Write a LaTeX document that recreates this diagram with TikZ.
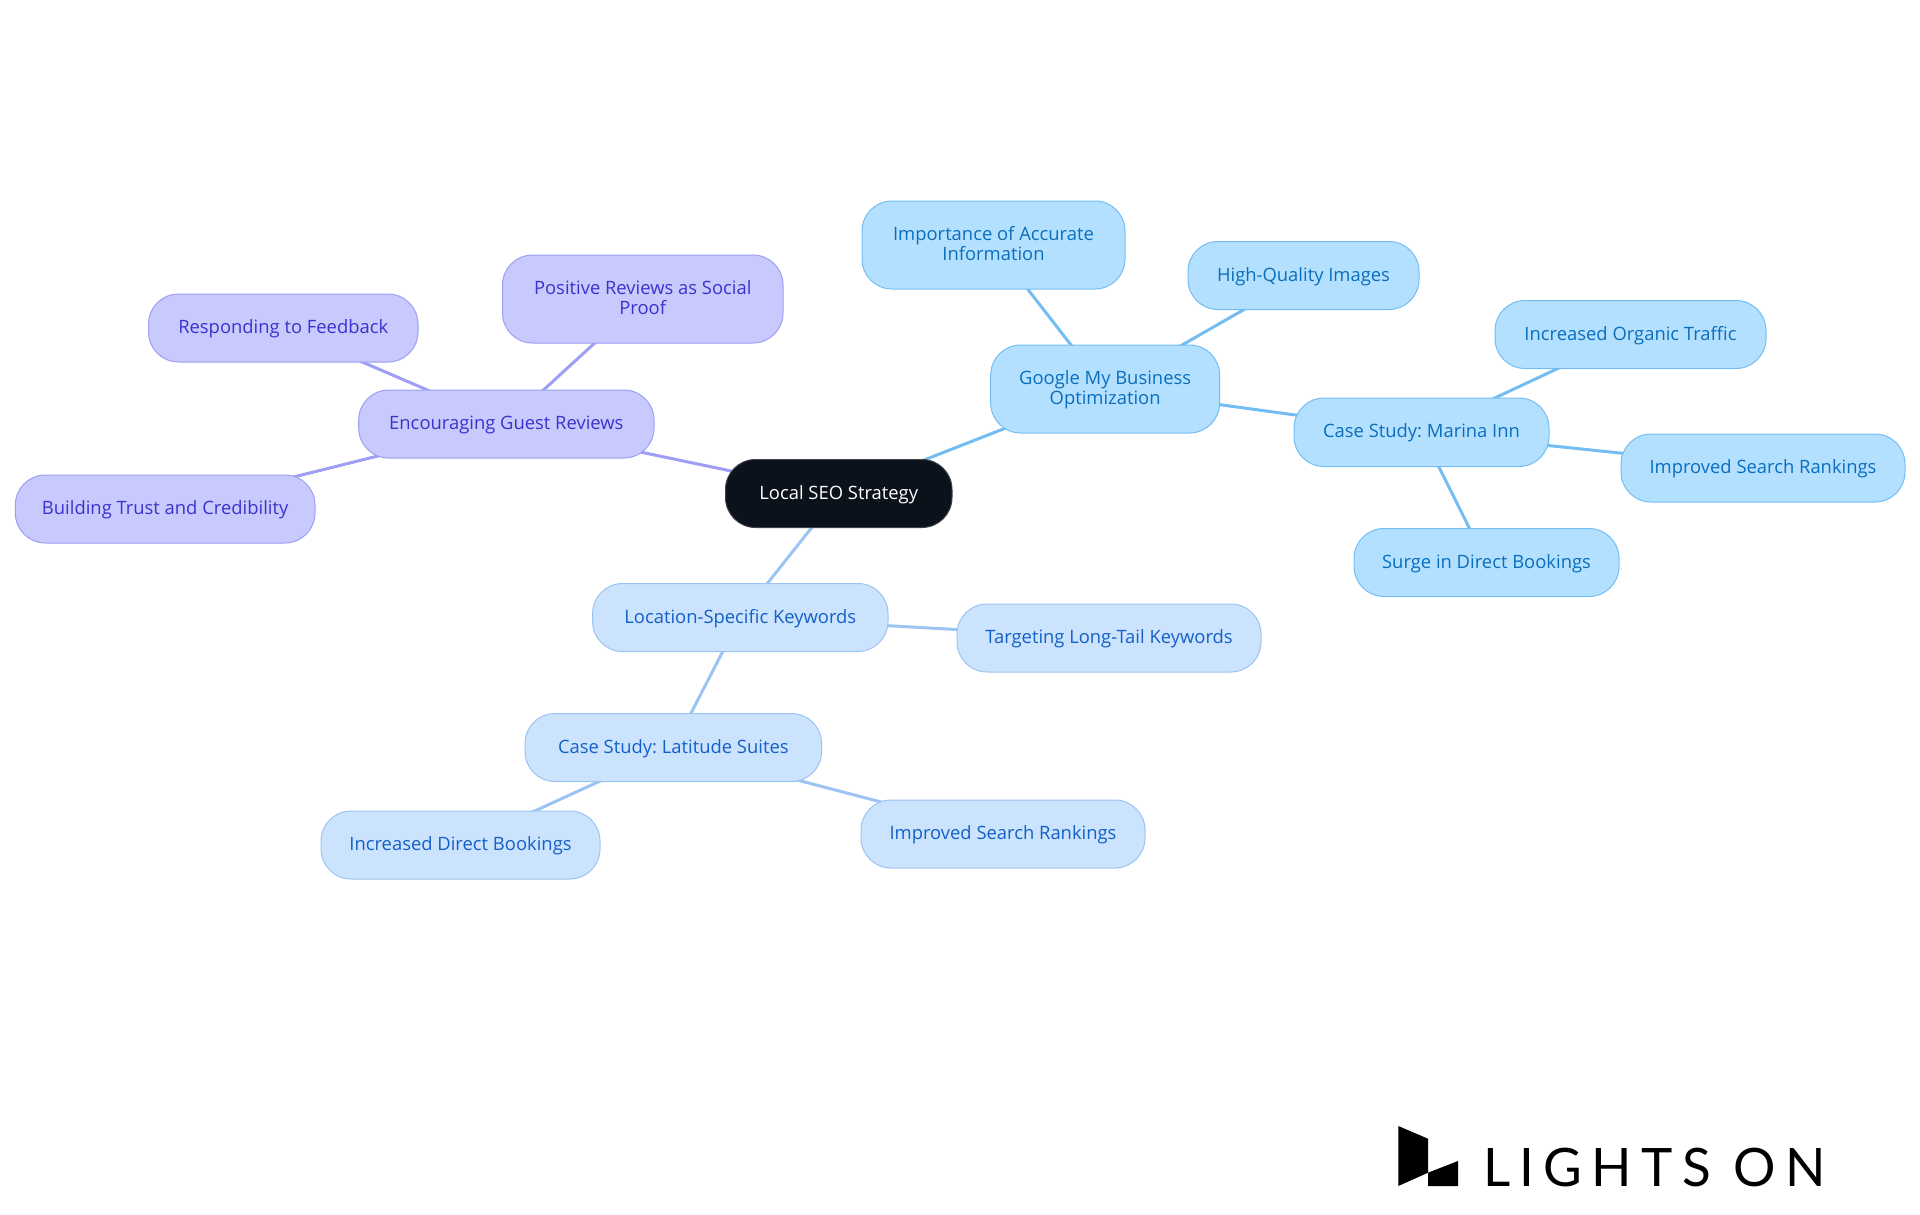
\documentclass[tikz,border=0pt]{standalone}
\usepackage{fontspec}
\setmainfont{Open Sans}
\newfontfamily\logofont[LetterSpace=17.5]{Lato}
\usetikzlibrary{backgrounds}
\definecolor{rootfill}{HTML}{0C121B}
\definecolor{purfill}{HTML}{C8C9FD}
\definecolor{purline}{HTML}{9D9EF4}
\definecolor{purtext}{HTML}{3A33CC}
\definecolor{skyfill}{HTML}{B4E0FF}
\definecolor{skyline}{HTML}{74BDF2}
\definecolor{skytext}{HTML}{0A6EBD}
\definecolor{blufill}{HTML}{CCE3FD}
\definecolor{bluline}{HTML}{9CC4F2}
\definecolor{blutext}{HTML}{1360C9}
\tikzset{
  x=1pt,y=-1pt,
  mapnode/.style={rounded corners=30pt,line width=1pt,inner sep=0pt,outer sep=0pt,
    font=\fontsize{18.4}{20}\selectfont\frenchspacing},
  rootnode/.style={mapnode,fill=rootfill,draw=rootfill!80!white,text=white},
  purnode/.style={mapnode,fill=purfill,draw=purline,text=purtext},
  skynode/.style={mapnode,fill=skyfill,draw=skyline,text=skytext},
  blunode/.style={mapnode,fill=blufill,draw=bluline,text=blutext},
  purlink/.style={draw=purline,line width=3pt},
  skylink/.style={draw=skyline,line width=3pt},
  blulink/.style={draw=bluline,line width=3pt},
}
\newcommand{\boxnode}[7]{%
  \pgfmathsetmacro{\cxx}{(#3+#5)/2}\pgfmathsetmacro{\cyy}{(#4+#6)/2}%
  \pgfmathsetmacro{\www}{#5-#3}\pgfmathsetmacro{\hhh}{#6-#4}%
  \node[#2,minimum width=\www pt,minimum height=\hhh pt] (#1) at (\cxx,\cyy)
    {\raisebox{-1.7pt}[\height][\depth]{\begin{tabular}{@{}c@{}}#7\end{tabular}}};}
\begin{document}
\begin{tikzpicture}
\useasboundingbox (0,0) rectangle (1920,1215);
\boxnode{root}{rootnode}{725.5}{459.5}{952}{527.5}{Local SEO Strategy}
\boxnode{guest}{purnode}{358.7}{390}{654}{458}{Encouraging Guest Reviews}
\boxnode{proof}{purnode}{502.5}{255}{783}{343}{Positive Reviews as Social\\Proof}
\boxnode{feedback}{purnode}{148.5}{294}{418}{362}{Responding to Feedback}
\boxnode{trust}{purnode}{15.3}{475}{315}{543}{Building Trust and Credibility}
\boxnode{google}{skynode}{990.7}{345}{1219.6}{433}{Google My Business\\Optimization}
\boxnode{accurate}{skynode}{862}{201}{1125}{289}{Importance of Accurate\\Information}
\boxnode{images}{skynode}{1188}{241.5}{1419}{309.5}{High-Quality Images}
\boxnode{marina}{skynode}{1294}{398}{1549}{466.5}{Case Study: Marina Inn}
\boxnode{organic}{skynode}{1495}{300.5}{1766}{368.5}{Increased Organic Traffic}
\boxnode{rankA}{skynode}{1621}{434}{1905}{502}{Improved Search Rankings}
\boxnode{surge}{skynode}{1354}{528.5}{1619}{596.5}{Surge in Direct Bookings}
\boxnode{location}{blunode}{592.6}{583.5}{888}{651.5}{Location-Specific Keywords}
\boxnode{longtail}{blunode}{957}{604}{1261}{672}{Targeting Long-Tail Keywords}
\boxnode{latitude}{blunode}{525}{713.5}{821.6}{781.5}{Case Study: Latitude Suites}
\boxnode{direct}{blunode}{321}{811}{600}{879}{Increased Direct Bookings}
\boxnode{rankB}{blunode}{861}{800}{1145}{868}{Improved Search Rankings}
\begin{scope}[on background layer]
\draw[purlink] (root.center) -- (guest.center);
\draw[purlink] (guest.center) -- (proof.center);
\draw[purlink] (guest.center) -- (feedback.center);
\draw[purlink] (guest.center) -- (trust.center);
\draw[skylink] (root.center) -- (google.center);
\draw[skylink] (google.center) -- (accurate.center);
\draw[skylink] (google.center) -- (images.center);
\draw[skylink] (google.center) -- (marina.center);
\draw[skylink] (marina.center) -- (organic.center);
\draw[skylink] (marina.center) -- (rankA.center);
\draw[skylink] (marina.center) -- (surge.center);
\draw[blulink] (root.center) -- (location.center);
\draw[blulink] (location.center) -- (longtail.center);
\draw[blulink] (location.center) -- (latitude.center);
\draw[blulink] (latitude.center) -- (direct.center);
\draw[blulink] (latitude.center) -- (rankB.center);
\end{scope}
\fill[black] (1398.3,1126) -- (1428,1138.7) -- (1428,1172.7) -- (1398.3,1186) -- cycle;
\fill[black] (1428,1172.7) -- (1458,1161) -- (1458,1186) -- (1428,1186) -- cycle;
\node[anchor=base west,inner sep=0pt,font=\logofont\fontsize{53}{53}\selectfont] (logo) at (1483,1186) {LIGHTS ON};
\end{tikzpicture}
\end{document}
